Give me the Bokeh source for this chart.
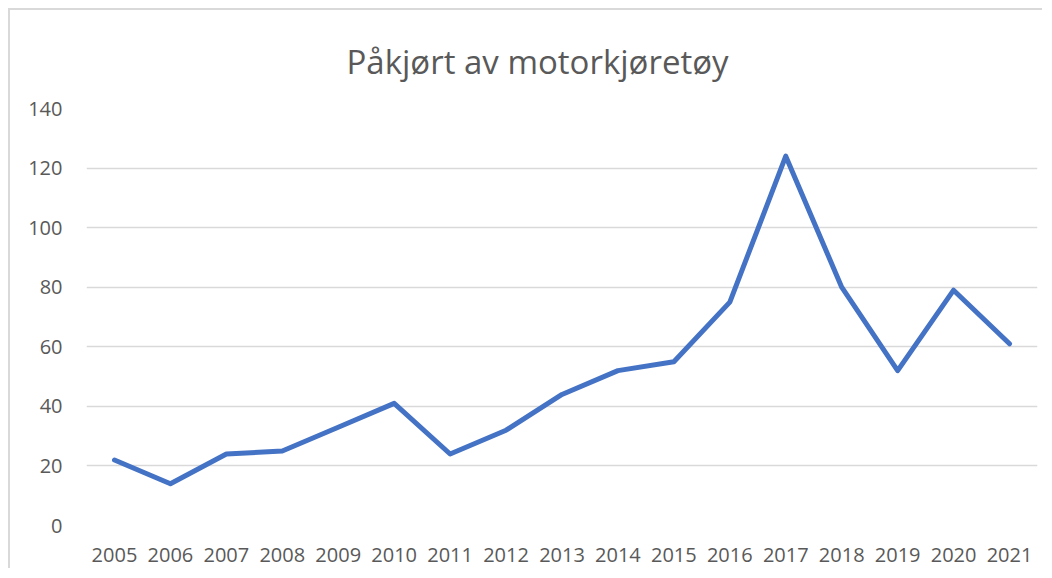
from bokeh.plotting import figure
from bokeh.models import FactorRange, Range1d, SingleIntervalTicker
from bokeh.embed import file_html
from bokeh.resources import INLINE

years = ["2005", "2006", "2007", "2008", "2009", "2010", "2011", "2012", "2013",
         "2014", "2015", "2016", "2017", "2018", "2019", "2020", "2021"]
values = [22, 14, 24, 25, 33, 41, 24, 32, 44, 52, 55, 75, 124, 80, 52, 79, 61]
title_text = "Påkjørt av motorkjøretøy"

TXT = "#595959"
FONT = "Open Sans"

p = figure(width=1034, height=560, x_range=FactorRange(*years), y_range=Range1d(0, 140),
           output_backend="svg", toolbar_location=None, title=title_text,
           min_border_left=76, min_border_right=7, min_border_top=98, min_border_bottom=45)
p.styles = {"margin-left": "8px", "margin-top": "8px",
            "border-left": "2px solid #d9d9d9", "border-top": "2px solid #d9d9d9"}
p.outline_line_color = None
p.background_fill_color = "white"
p.border_fill_color = "white"

p.title.align = "left"
p.title.offset = 260
p.title.text_font = FONT
p.title.text_font_size = "33px"
p.title.text_font_style = "normal"
p.title.text_color = TXT
p.title.standoff = 50

p.line(x=years, y=values, line_color="#4472C4", line_width=5,
       line_join="round", line_cap="round")

p.yaxis.ticker = SingleIntervalTicker(interval=20)
for ax in (p.xaxis[0], p.yaxis[0]):
    ax.axis_line_color = None
    ax.major_tick_line_color = None
    ax.minor_tick_line_color = None
    ax.major_label_text_color = TXT
    ax.major_label_text_font = FONT
    ax.major_label_text_font_size = "20px"
p.yaxis.major_label_standoff = 18
p.xaxis.major_label_standoff = 16

p.xgrid.grid_line_color = None
p.ygrid.grid_line_color = "#d9d9d9"
p.ygrid.grid_line_width = 1.5

open("out.html", "w").write(file_html(p, INLINE))
